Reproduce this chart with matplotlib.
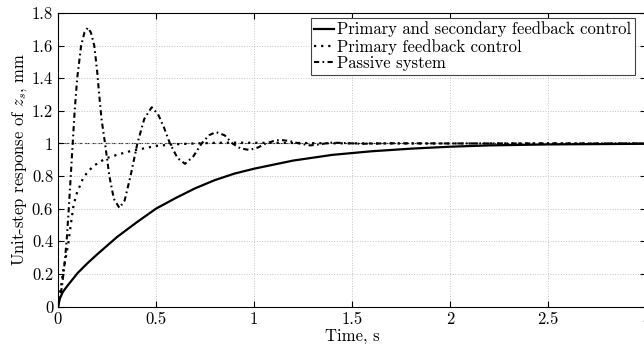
import matplotlib
matplotlib.use("Agg")
import matplotlib.pyplot as plt

plt.rcParams['font.family'] = 'serif'
plt.rcParams['font.serif'] = ['cmr10', 'DejaVu Serif']
plt.rcParams['mathtext.fontset'] = 'cm'
plt.rcParams['axes.formatter.use_mathtext'] = True

# primary and secondary feedback control (solid)
t_both = [0, 0.01, 0.025, 0.05, 0.1, 0.15, 0.2, 0.3, 0.4, 0.5, 0.6, 0.7, 0.8, 0.9, 1.0,
          1.2, 1.4, 1.6, 1.8, 2.0, 2.2, 2.5, 3.0]
y_both = [0, 0.05, 0.09, 0.13, 0.205, 0.265, 0.32, 0.425, 0.515, 0.60, 0.665, 0.725, 0.775,
          0.815, 0.845, 0.895, 0.93, 0.952, 0.968, 0.98, 0.988, 0.994, 0.998]

# primary feedback control (dotted)
t_prim = [0, 0.01, 0.027, 0.04, 0.053, 0.065, 0.078, 0.09, 0.1, 0.112, 0.129, 0.155, 0.18,
          0.21, 0.248, 0.3, 0.36, 0.42, 0.5, 0.6, 0.7, 0.8, 0.9, 1.0, 1.2, 1.4, 1.6, 2.0, 2.5, 3.0]
y_prim = [0, 0.08, 0.22, 0.3, 0.39, 0.5, 0.61, 0.67, 0.71, 0.74, 0.79, 0.83, 0.86,
          0.885, 0.91, 0.93, 0.95, 0.965, 0.985, 0.995, 1.0, 1.004, 1.005, 1.004, 1.003, 1.001,
          1.0, 1.0, 1.0, 1.0]

# passive system (dash-dot)
t_pass = [0, 0.02, 0.035, 0.045, 0.055, 0.065, 0.075, 0.085, 0.098, 0.118, 0.135, 0.152,
          0.168, 0.185, 0.2, 0.21, 0.222, 0.24, 0.262, 0.285, 0.313, 0.34, 0.37, 0.405, 0.44,
          0.478, 0.51, 0.54, 0.571, 0.61, 0.648, 0.69, 0.733, 0.77, 0.806, 0.85, 0.89, 0.93,
          0.976, 1.02, 1.06, 1.1, 1.133, 1.18, 1.23, 1.286, 1.34, 1.388, 1.45, 1.55, 1.7,
          2.0, 2.5, 3.0]
y_pass = [0, 0.12, 0.28, 0.42, 0.6, 0.8, 1.0, 1.2, 1.4, 1.6, 1.68, 1.71,
          1.68, 1.6, 1.44, 1.3, 1.15, 1.0, 0.8, 0.66, 0.605, 0.65, 0.8, 1.0, 1.15,
          1.222, 1.18, 1.1, 1.0, 0.91, 0.875, 0.92, 1.0, 1.05, 1.07, 1.05, 1.0, 0.97,
          0.96, 0.975, 1.0, 1.015, 1.022, 1.015, 1.0, 0.988, 0.995, 1.005, 1.003, 0.998, 1.001,
          1.0, 1.0, 1.0]

ref_level = 1.0

xticks = [0, 0.5, 1, 1.5, 2, 2.5, 3]
xlabels = ['0', '0.5', '1', '1.5', '2', '2.5', '3']
yticks = [0, 0.2, 0.4, 0.6, 0.8, 1.0, 1.2, 1.4, 1.6, 1.8]
ylabels = ['0', '0.2', '0.4', '0.6', '0.8', '1', '1.2', '1.4', '1.6', '1.8']

fig = plt.figure(figsize=(6.44, 3.44), dpi=100)
ax = fig.add_axes([58 / 644, (344 - 306.5) / 344, (646 - 58) / 644, (306.5 - 13) / 344])

ax.axhline(ref_level, color='#333333', lw=0.8, ls=(0, (4, 2)), zorder=1)
ax.plot(t_both, y_both, color='black', lw=1.6, ls='-',
        label='Primary and secondary feedback control')
ax.plot(t_prim, y_prim, color='black', lw=1.6, ls=(0, (1, 2.2)),
        label='Primary feedback control')
ax.plot(t_pass, y_pass, color='black', lw=1.5, ls=(0, (2.5, 1.6, 0.8, 1.6)),
        label='Passive system')

ax.set_xlim(0, 3)
ax.set_ylim(0, 1.8)
ax.set_xticks(xticks)
ax.set_xticklabels(xlabels)
ax.set_yticks(yticks)
ax.set_yticklabels(ylabels)
ax.tick_params(direction='in', top=True, right=True, labelsize=12, length=4, width=0.8)
ax.grid(True, color='#c4c4c4', ls=':', lw=0.7)
for s in ax.spines.values():
    s.set_linewidth(0.8)

ax.set_xlabel('Time, s', fontsize=12, labelpad=1)
ax.set_ylabel('Unit-step response of $z_s$, mm', fontsize=12, labelpad=2)

leg = ax.legend(loc='upper right', bbox_to_anchor=(0.981, 0.982), borderaxespad=0,
                fontsize=12, fancybox=False, framealpha=1, edgecolor='#444444',
                handlelength=1.2, handletextpad=0.2, labelspacing=0.08,
                borderpad=0.2)
leg.get_frame().set_linewidth(0.8)

fig.savefig('out.png', dpi=100)
